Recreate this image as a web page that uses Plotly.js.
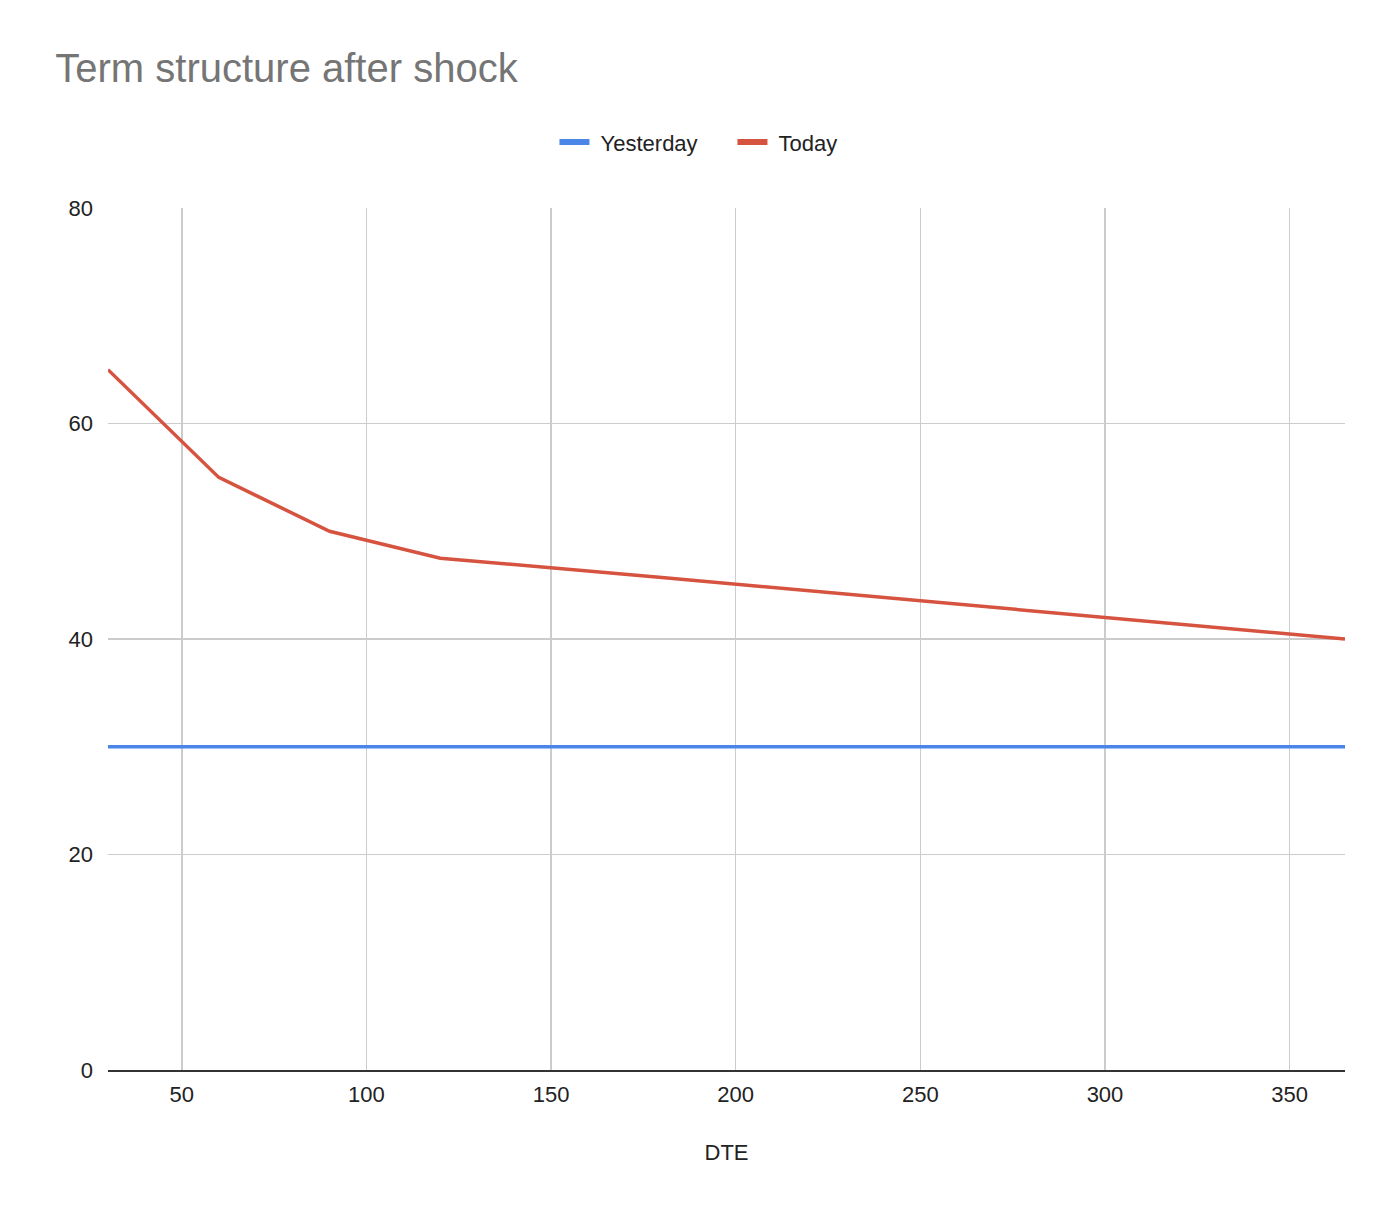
<!DOCTYPE html>
<html>
<head>
<meta charset="utf-8">
<script src="https://cdn.plot.ly/plotly-3.0.1.min.js"></script>
<style>
  html, body { margin: 0; padding: 0; background: #fff; }
  #chart { width: 1382px; height: 1206px; }
</style>
</head>
<body>
<div id="chart"></div>
<script>
// days to expiry
var dte = [30, 60, 90, 120, 180, 270, 365];
// implied vol levels
var yesterday = [30, 30, 30, 30, 30, 30, 30];
var today = [65, 55, 50, 47.5, 45.7, 42.9, 40];

var names = ["Yesterday", "Today"];
var colors = ["#4a86e8", "#d65340"];

var font = "Liberation Sans, Arial, sans-serif";

var traces = [];
[yesterday, today].forEach(function (vals, i) {
  traces.push({
    x: dte,
    y: vals,
    name: names[i],
    legendgroup: names[i],
    showlegend: false,
    type: "scatter",
    mode: "lines",
    line: { color: colors[i], width: 3.5 }
  });
});
// legend-only entries, thicker swatch like the sheets legend
names.forEach(function (n, i) {
  traces.push({
    x: [null],
    y: [null],
    name: "\u00a0" + n,
    legendgroup: n,
    type: "scatter",
    mode: "lines",
    line: { color: colors[i], width: 6 }
  });
});

var layout = {
  width: 1382,
  height: 1206,
  paper_bgcolor: "#fff",
  plot_bgcolor: "#fff",
  font: { family: font, size: 21, color: "#222" },
  margin: { l: 108, r: 37, t: 208, b: 136, pad: 0 },
  title: {
    text: "Term structure after shock",
    font: { family: font, size: 40, color: "#757575" },
    xref: "container",
    x: 0.04,
    xanchor: "left",
    yref: "container",
    y: 0.944,
    yanchor: "middle"
  },
  showlegend: true,
  legend: {
    orientation: "h",
    xref: "container",
    x: 0.53,
    xanchor: "center",
    yref: "container",
    y: 0.882,
    yanchor: "middle",
    font: { family: font, size: 22, color: "#222" },
    itemwidth: 30,
    entrywidth: 133,
    traceorder: "normal"
  },
  xaxis: {
    range: [30, 365],
    tick0: 0,
    dtick: 50,
    showgrid: true,
    gridcolor: "#cccccc",
    gridwidth: 1.5,
    zeroline: false,
    showline: true,
    linecolor: "#333333",
    linewidth: 2,
    ticks: "",
    ticklabelstandoff: 4,
    tickfont: { family: font, size: 22, color: "#222" },
    title: { text: "DTE", font: { family: font, size: 22, color: "#222" }, standoff: 38 }
  },
  yaxis: {
    range: [0, 80],
    tick0: 0,
    dtick: 20,
    showgrid: true,
    gridcolor: "#cccccc",
    gridwidth: 1.5,
    zeroline: false,
    showline: false,
    ticks: "",
    ticklabelstandoff: 14,
    tickfont: { family: font, size: 22, color: "#222" }
  }
};

Plotly.newPlot("chart", traces, layout, { displayModeBar: false, staticPlot: true });
</script>
</body>
</html>
